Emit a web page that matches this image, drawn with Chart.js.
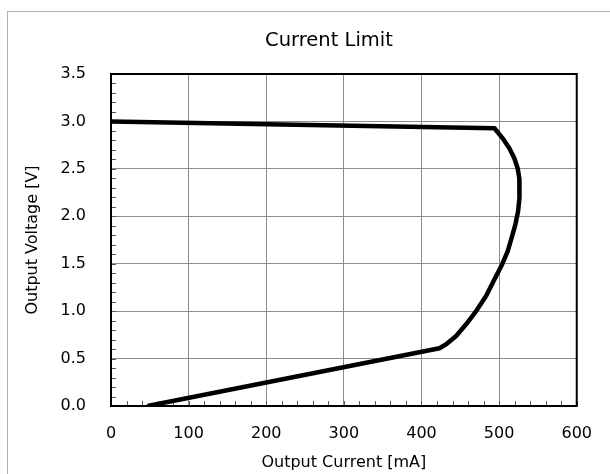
<!DOCTYPE html>
<html>
<head>
<meta charset="utf-8">
<script src="https://cdn.jsdelivr.net/npm/chart.js@4.4.1/dist/chart.umd.min.js"></script>
<style>
  html, body { margin: 0; padding: 0; background: #fff; }
  #wrap { width: 610px; height: 474px; position: relative; }
</style>
</head>
<body>
<div id="wrap"><canvas id="c" width="610" height="474"></canvas></div>
<script>
// Data
const currentMA = [0, 494, 504.6, 513.2, 519.6, 523.9, 526.0, 526.4, 526.0, 524.4, 520.9, 516.1, 511.0, 503.8, 493.9, 483.2, 470.4, 457.5, 444.6, 431.8, 423.2, 47];
const voltageV  = [3.00, 2.928, 2.822, 2.717, 2.612, 2.507, 2.402, 2.297, 2.192, 2.051, 1.912, 1.772, 1.631, 1.492, 1.334, 1.159, 1.001, 0.861, 0.738, 0.651, 0.609, 0.00];
const xTicks = [0, 100, 200, 300, 400, 500, 600];
const yTicks = [0.0, 0.5, 1.0, 1.5, 2.0, 2.5, 3.0, 3.5];
const chartTitle = 'Current Limit';
const xTitle = 'Output Current [mA]';
const yTitle = 'Output Voltage [V]';

const points = currentMA.map((x, i) => ({ x: x, y: voltageV[i] }));
const FONT = 'DejaVu Sans';

const framePlugin = {
  id: 'frame',
  beforeDraw(chart) {
    const ctx = chart.ctx;
    ctx.save();
    ctx.fillStyle = '#fff';
    ctx.fillRect(0, 0, chart.width, chart.height);
    ctx.strokeStyle = '#b0b0b0';
    ctx.lineWidth = 1;
    ctx.strokeRect(7.5, 11.5, 700, 600);
    ctx.restore();
  },
  afterLayout(chart) {
    if (chart.titleBlock) {
      chart.titleBlock.left = 48;
      chart.titleBlock.right = 610;
    }
  },
  beforeDatasetsDraw(chart) {
    const ctx = chart.ctx;
    const a = chart.chartArea;
    const xs = chart.scales.x, ys = chart.scales.y;
    ctx.save();
    ctx.strokeStyle = '#555';
    ctx.lineWidth = 1;
    ctx.beginPath();
    for (let v = 0; v <= 600; v += 20) {
      const px = Math.round(xs.getPixelForValue(v)) + 0.5;
      ctx.moveTo(px, a.bottom);
      ctx.lineTo(px, a.bottom - 5);
    }
    for (let k = 0; k <= 35; k++) {
      const py = Math.round(ys.getPixelForValue(k / 10)) + 0.5;
      ctx.moveTo(a.left, py);
      ctx.lineTo(a.left + 5, py);
    }
    ctx.stroke();
    ctx.strokeStyle = '#000';
    ctx.lineWidth = 2;
    ctx.strokeRect(a.left, a.top, a.right - a.left, a.bottom - a.top);
    ctx.restore();
  }
};

new Chart(document.getElementById('c'), {
  type: 'scatter',
  data: {
    datasets: [{
      data: points,
      showLine: true,
      borderColor: '#000',
      backgroundColor: '#000',
      borderWidth: 4.5,
      pointRadius: 0,
      tension: 0,
      borderJoinStyle: 'round',
      borderCapStyle: 'butt'
    }]
  },
  options: {
    responsive: false,
    animation: false,
    layout: { padding: { left: 0, right: 33, top: 0, bottom: 0 } },
    plugins: {
      legend: { display: false },
      tooltip: { enabled: false },
      title: {
        display: true,
        text: chartTitle,
        color: '#000',
        font: { family: FONT, size: 19.5, weight: 'normal' },
        padding: { top: 29, bottom: 21.6 }
      }
    },
    scales: {
      x: {
        type: 'linear',
        min: 0, max: 600,
        afterBuildTicks: s => { s.ticks = xTicks.map(v => ({ value: v })); },
        afterFit: s => { s.height = 68; },
        ticks: { color: '#000', font: { family: FONT, size: 16 }, padding: 18, maxRotation: 0 },
        grid: { color: '#8c8c8c', lineWidth: 1, drawTicks: false },
        border: { display: false },
        title: {
          display: true, text: xTitle, color: '#000',
          font: { family: FONT, size: 16 },
          padding: { top: 0, bottom: 1.5 }
        }
      },
      y: {
        type: 'linear',
        min: 0, max: 3.5,
        afterBuildTicks: s => { s.ticks = yTicks.map(v => ({ value: v })); },
        afterFit: s => { s.width = 111; },
        ticks: { color: '#000', font: { family: FONT, size: 16 }, padding: 25,
                 callback: v => Number(v).toFixed(1) },
        grid: { color: '#8c8c8c', lineWidth: 1, drawTicks: false },
        border: { display: false },
        title: {
          display: true, text: yTitle, color: '#000',
          font: { family: FONT, size: 16 },
          padding: { top: 23.5, bottom: 0 }
        }
      }
    }
  },
  plugins: [framePlugin]
});
</script>
</body>
</html>
